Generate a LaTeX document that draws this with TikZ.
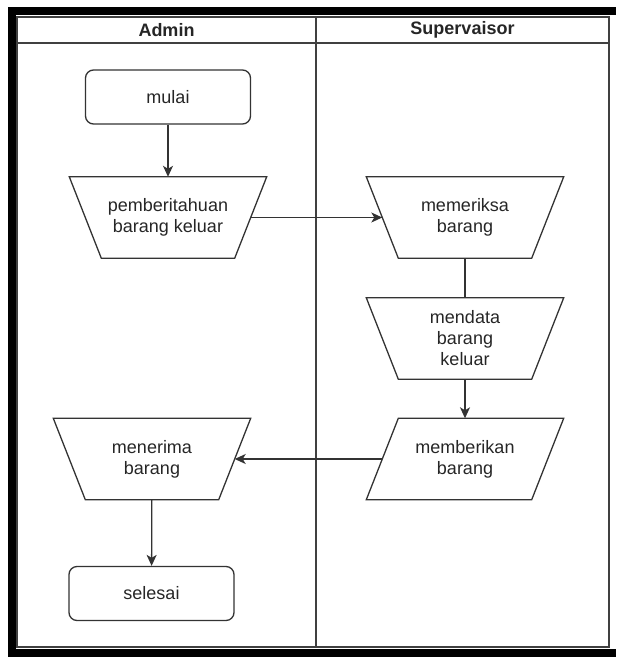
\documentclass[tikz,border=0pt]{standalone}
\usepackage{fontspec}
\setmainfont{Liberation Sans}
\usetikzlibrary{positioning,calc,arrows.meta}

\begin{document}
\begin{tikzpicture}[x=1pt,y=-1pt,
    garis/.style={draw=black!80, line width=1.3pt},
    teks/.style={font=\fontsize{18}{21}\selectfont, text=black!85},
    terminal/.style={garis, teks, rounded corners=8pt, minimum width=165pt, minimum height=54pt},
    proses/.style={teks, align=center, inner sep=0pt, minimum width=165pt, minimum height=81pt},
    panah/.style={garis, -{Stealth[length=11pt,width=10pt,inset=3pt]}}]
    \useasboundingbox (0,0) rectangle (616,660);
    % bingkai hitam
    \fill[black] (8,7) rectangle (616,15);
    \fill[black] (8,7) rectangle (16,657);
    \fill[black] (8,649) rectangle (616,657);
    % swimlane
    \draw[black!75, line width=1.5pt] (17,17) rectangle (609,647);
    \draw[black!75, line width=1.5pt] (17,43) -- (609,43);
    \draw[black!75, line width=1.5pt] (316,17) -- (316,647);
    \node[teks, font=\bfseries\fontsize{18}{21}\selectfont] (admin) at (166.5,30) {Admin};
    \node[teks, font=\bfseries\fontsize{18}{21}\selectfont] (spv) at (462.5,30) {Supervaisor};
    % node
    \node[terminal] (mulai) at (168,97) {mulai};
    \node[proses] (beri) at (168,217.5) {pemberitahuan\\barang keluar};
    \node[proses] (periksa) at (465,217.5) {memeriksa\\barang};
    \node[proses] (data) at (465,338.5) {mendata\\barang\\keluar};
    \node[proses] (berikan) at (465,459) {memberikan\\barang};
    \node[proses] (terima) at (152,459) {menerima\\barang};
    \node[terminal] (selesai) at (151.5,593.5) {selesai};
    % bentuk trapesium
    \foreach \n in {beri, periksa, data, terima} {
        \draw[garis] ($(\n.north west)+(-16,0)$) -- ($(\n.north east)+(16,0)$)
            -- ($(\n.south east)+(-16,0)$) -- ($(\n.south west)+(16,0)$) -- cycle;
    }
    % jajar genjang
    \draw[garis] ($(berikan.north west)+(16,0)$) -- ($(berikan.north east)+(16,0)$)
        -- ($(berikan.south east)+(-16,0)$) -- ($(berikan.south west)+(-16,0)$) -- cycle;
    % alur
    \draw[panah] (mulai) -- (beri);
    \draw[panah] (beri) -- (periksa);
    \draw[garis] (periksa) -- (data);
    \draw[panah] (data) -- (berikan);
    \draw[panah] (berikan) -- (terima);
    \draw[panah] (terima) -- (selesai);
\end{tikzpicture}
\end{document}
